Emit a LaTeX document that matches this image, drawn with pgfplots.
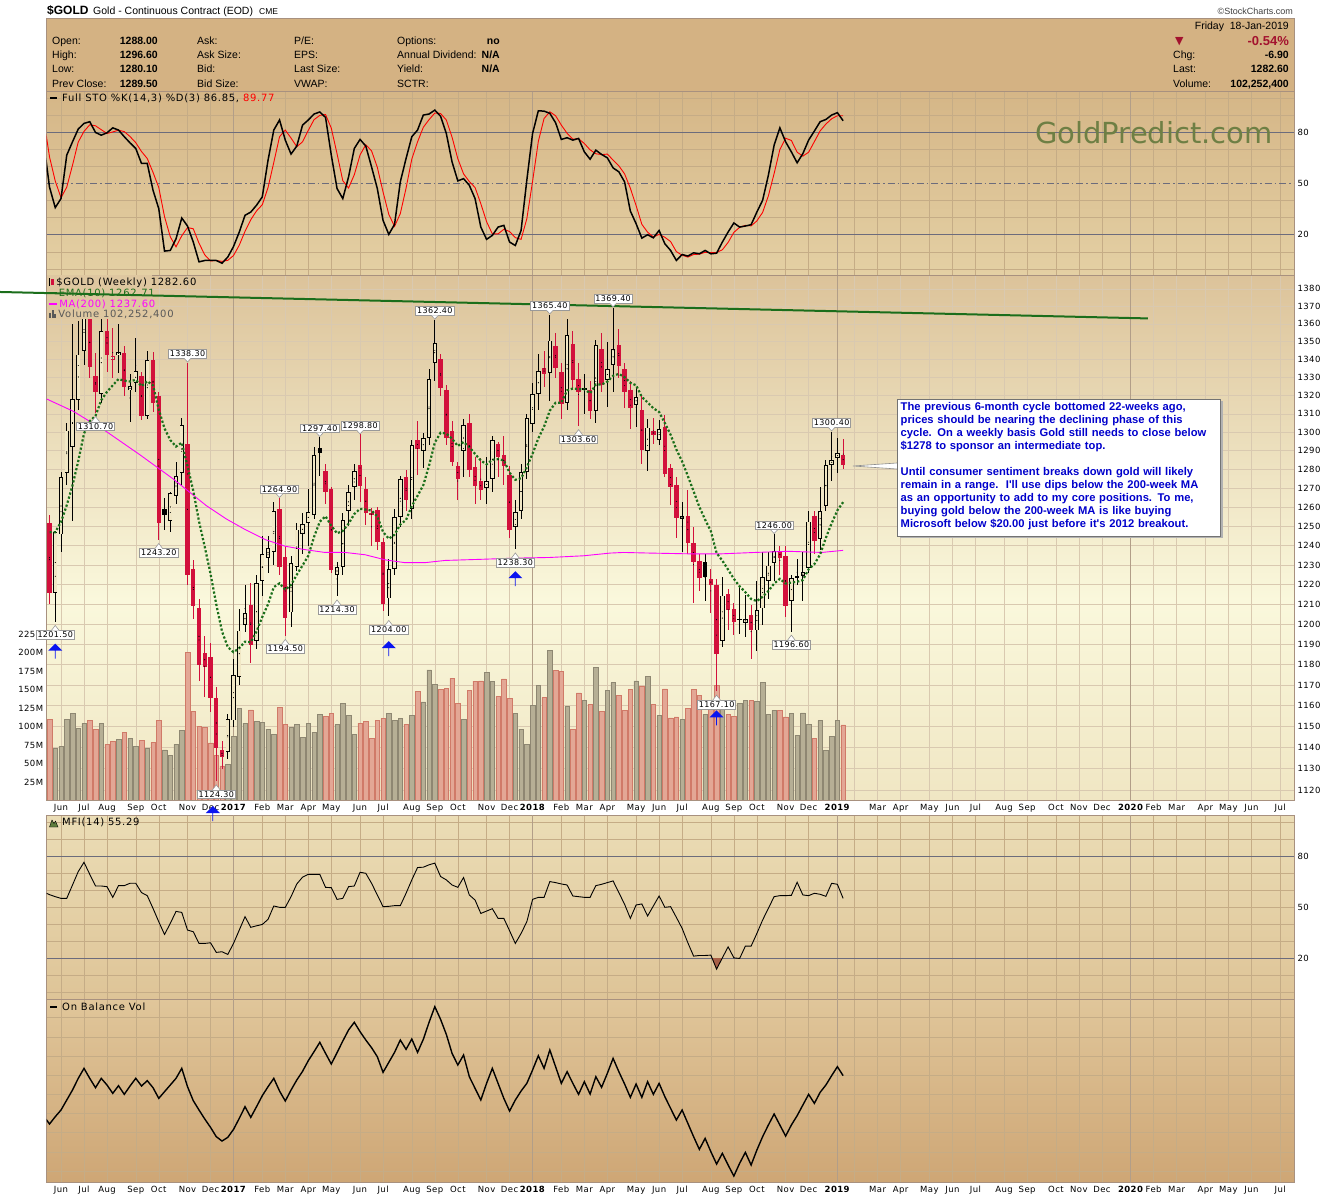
\documentclass[border=0pt]{standalone}
\usepackage{fontspec}
\setmainfont{DejaVu Sans}
\newfontfamily\lgd{DejaVu Sans}[LetterSpace=7]
\newfontfamily\tkf{DejaVu Sans}[LetterSpace=5]
\newfontfamily\hdr{Liberation Sans}
\newfontfamily\sym{DejaVu Sans}
\usepackage{pgfplots}
\usepackage{pgfplotstable}
\pgfplotsset{compat=1.18}
\usetikzlibrary{shapes.arrows}

\definecolor{hdrbg}{HTML}{D4B283}
\definecolor{bordercol}{HTML}{A8917F}
\definecolor{stotop}{HTML}{D5B687}
\definecolor{stobot}{HTML}{E4D0A4}
\definecolor{maintop}{HTML}{DCC39A}
\definecolor{mainmid}{HTML}{FAF8DC}
\definecolor{mainbot}{HTML}{F0E6C3}
\definecolor{mfitop}{HTML}{EBDDB6}
\definecolor{mfibot}{HTML}{DEC497}
\definecolor{obvtop}{HTML}{E0C69A}
\definecolor{obvbot}{HTML}{CEA675}
\definecolor{cred}{HTML}{D2103C}
\definecolor{hollowbg}{HTML}{F1E7C5}
\definecolor{volup}{HTML}{B6AF95}
\definecolor{volupline}{HTML}{8E8772}
\definecolor{voldn}{HTML}{E3A795}
\definecolor{voldnline}{HTML}{D07A68}
\definecolor{emagreen}{HTML}{1A6E1A}
\definecolor{trendgreen}{HTML}{1B6E1B}
\definecolor{magma}{HTML}{FF00FF}
\definecolor{refline}{HTML}{6C6C7C}
\definecolor{gridcol}{HTML}{C5AC86}
\definecolor{yeargrid}{HTML}{B29E88}
\definecolor{wmgreen}{HTML}{6E7F44}
\definecolor{txtblue}{HTML}{0000CC}
\definecolor{chgred}{HTML}{A3122E}
\definecolor{mfibrown}{HTML}{A86048}
\definecolor{maskcol}{HTML}{DEC7A0}
\definecolor{arrblue}{HTML}{0A14F0}
\definecolor{mfiicon}{HTML}{5E7D3E}

\pgfplotsset{
  panel/.style={scale only axis, width=1247.3pt, anchor=south west,
    xmin=-0.487, xmax=216.4,
    axis line style={draw=bordercol, line width=0.8pt},
    major tick length=0pt, minor tick length=0pt,
    xtick={2,6,10,15,19,24,28,32,37,41,45,49,54,58,63,67,71,76,80,84,89,93,97,102,106,110,115,119,123,128,132,137,140,144,148,153,157,161,166,170,175,179,183,188,192,196,201,205,209,214},
    xticklabels={}, xmajorgrids,
    major grid style={draw=gridcol, line width=0.5pt},
    minor grid style={draw=gridcol, line width=0.5pt},
    tick label style={font=\tkf\fontsize{8.5}{10}\selectfont}},
  years/.style={extra x ticks={32,84,137,188}, extra x tick labels={},
    extra x tick style={grid=major, major grid style={draw=yeargrid, line width=0.7pt}}},
  monthlabels/.style={xticklabels={Jun,Jul,Aug,Sep,Oct,Nov,Dec,\textbf{2017},Feb,Mar,Apr,May,Jun,Jul,Aug,Sep,Oct,Nov,Dec,\textbf{2018},Feb,Mar,Apr,May,Jun,Jul,Aug,Sep,Oct,Nov,Dec,\textbf{2019},{},Mar,Apr,May,Jun,Jul,Aug,Sep,Oct,Nov,Dec,\textbf{2020},Feb,Mar,Apr,May,Jun,Jul}},
  pricey/.style={ymin=7.016699, ymax=7.235401},
  candle/.style={only marks, mark=*, mark size=0.1pt, mark options={draw=none, fill=none}}
}
\tikzset{
  lbl/.style={draw=black!40, fill=white, inner sep=1.3pt, line width=0.6pt, font=\tkf\fontsize{8}{9}\selectfont},
  barrow/.style={single arrow, fill=arrblue, draw=none, minimum height=15pt, minimum width=14pt, single arrow head extend=3.5pt, single arrow head indent=0pt, shape border rotate=90, inner sep=0pt, anchor=tip}
}
% price labels with a small pointer (value given as ln of the price)
\newcommand\lowlbl[3]{\node[lbl, anchor=north, yshift=-9pt] (tmp) at (axis cs:#1,#2) {#3};
  \draw[draw=black!40, fill=white, line width=0.6pt] ([xshift=-4pt,yshift=-0.3pt]tmp.north) -- ([yshift=5pt]tmp.north) -- ([xshift=4pt,yshift=-0.3pt]tmp.north);}
\newcommand\highlbl[3]{\node[lbl, anchor=south, yshift=4pt] (tmp) at (axis cs:#1,#2) {#3};
  \draw[draw=black!40, fill=white, line width=0.6pt] ([xshift=-3.5pt,yshift=0.3pt]tmp.south) -- ([yshift=-3.5pt]tmp.south) -- ([xshift=3.5pt,yshift=0.3pt]tmp.south);}

% weekly candles: index, open, high, low, close, red(1)/black(0), filled(1)/hollow(0), volume (M)
\pgfplotstableread{
i o h l c r f v
0 1252 1256 1210 1216 1 1 109.6
1 1216 1248 1201.5 1247 0 0 71.0
2 1246 1279 1237 1276 0 0 73.4
3 1278 1305 1272 1301 0 0 109.6
4 1292 1360 1253 1318 0 0 117.9
5 1318 1362 1312 1343 0 0 98.0
6 1345 1377 1337 1366 0 0 104.5
7 1364 1370 1330 1336 1 1 108.6
8 1331 1344 1310.7 1322 1 1 96.6
9 1321 1366 1316 1356 0 0 104.5
10 1356 1372 1333 1343 1 1 76.1
11 1339.8 1358 1330 1341.7 1 0 80.3
12 1342.5 1360 1333 1344.6 0 0 83.1
13 1344 1348 1320 1324.8 1 1 91.9
14 1322.9 1332 1306 1325.3 0 0 84.0
15 1327 1352 1322 1333.5 0 0 73.4
16 1331 1333 1307 1309 1 1 81.7
17 1309 1345 1307 1340 0 0 70.1
18 1340 1344 1311 1316 1 1 78.5
19 1320 1322 1243.2 1252 1 1 108.6
20 1259 1265 1248 1256 0 1 68.7
21 1253 1268 1247 1267.6 0 0 60.8
22 1266 1284 1262 1276.5 0 0 76.1
23 1278 1308 1272 1304 0 0 94.7
24 1294 1338.3 1219.8 1225 1 1 200.1
25 1228 1233 1202.7 1209.5 1 1 121.2
26 1208.6 1213 1171.9 1180 1 1 100.3
27 1186 1194.3 1164.4 1179.3 1 1 98.9
28 1184 1191 1157 1164 1 1 78.0
29 1163.7 1169 1124.3 1140 1 1 60.8
30 1139 1143 1129.7 1135.8 1 1 46.9
31 1138 1156 1134.5 1153.5 0 0 49.2
32 1153 1183 1150 1175 0 0 86.4
33 1174 1207.8 1170 1197 0 0 124.4
34 1200 1219.8 1196 1206 0 0 104.9
35 1210 1220.7 1181 1190 1 1 122.8
36 1192 1225 1188 1221 0 0 107.2
37 1222 1245 1214 1236 0 0 106.3
38 1234 1245 1226 1239 0 0 96.6
39 1237 1263 1230 1258 0 0 89.6
40 1259 1264.9 1225 1229 1 1 125.8
41 1234 1240 1194.5 1203 1 1 103.5
42 1206 1235 1199 1231 0 0 98.9
43 1229 1252 1227 1248.5 0 0 103.5
44 1246 1257 1236 1251 0 0 85.4
45 1252 1270 1240 1257.5 0 0 104.9
46 1256 1292 1254 1288 0 0 92.4
47 1291.6 1297.4 1277 1288.8 0 1 116.5
48 1279.4 1283 1262 1268 1 1 114.2
49 1269.7 1271 1226 1227.5 1 1 117.9
50 1225 1232 1214.3 1229 0 0 102.6
51 1229 1257 1225 1253.5 0 0 131.8
52 1258 1272 1250 1268 0 0 115.1
53 1271 1283 1264 1279.5 0 0 89.6
54 1282.7 1298.8 1263 1271.3 1 1 104.9
55 1269.7 1276 1251 1257 1 1 107.2
56 1256.9 1260 1240 1255.8 1 1 84.0
57 1258.5 1260 1238 1242 1 1 108.6
58 1242 1244 1207 1210 1 1 111.0
59 1213 1233 1204 1228 0 0 117.9
60 1228 1259 1225 1255 0 0 108.6
61 1255 1277 1250 1275 0 0 111.0
62 1276 1280 1258 1264 1 1 103.5
63 1259 1296 1254 1293 0 0 115.1
64 1296 1306 1277 1291 1 1 148.1
65 1290 1300 1281 1297 0 0 133.7
66 1297 1335 1293 1329 0 0 176.9
67 1338.5 1362.4 1328 1349.5 0 0 156.9
68 1340 1343 1320 1324 1 1 150.4
69 1323 1326 1293 1297 1 1 151.8
70 1301 1306 1282 1284 1 1 165.3
71 1282 1284 1264 1275 1 1 131.4
72 1290 1307 1276 1304 0 0 109.6
73 1305 1310 1276 1280 1 1 149.0
74 1281.4 1287 1262 1271.5 1 1 161.6
75 1274 1286 1264 1269 1 1 162.0
76 1270.6 1287 1262 1274 0 0 173.2
77 1275 1298 1268 1296 0 0 161.6
78 1293.5 1295 1276 1287 1 1 140.7
79 1287.8 1298 1272 1282 1 1 164.8
80 1277.4 1282 1244 1248.4 1 1 137.9
81 1249.8 1264 1238.3 1257.8 0 0 117.9
82 1258 1283 1254 1278.7 0 0 96.6
83 1278.5 1310 1275 1308 0 0 76.1
84 1304.5 1327 1300 1321 0 0 128.6
85 1320.8 1343 1312 1333.6 0 0 155.5
86 1335.5 1345 1325 1331.9 1 1 139.3
87 1332.5 1365.4 1317 1350.8 0 0 202.9
88 1347.4 1355 1330 1335.5 1 1 176.0
89 1333.2 1338 1307 1315.6 1 1 174.6
90 1316 1363 1312 1354 0 0 127.2
91 1348.5 1356 1323 1328.5 1 1 96.6
92 1329.5 1338 1303.6 1322 1 1 145.8
93 1324 1332 1310 1323 0 1 135.6
94 1323 1328 1307 1311.4 1 1 130.0
95 1311.8 1351 1305 1348 0 0 180.1
96 1345.7 1355 1322 1326 1 1 120.7
97 1329 1350 1314 1334.7 0 0 149.0
98 1337.2 1369.4 1322 1346 0 0 159.7
99 1348.5 1357 1330 1336.6 1 1 142.1
100 1334.7 1338 1313 1322.2 1 1 121.6
101 1323 1328 1302 1313 1 1 150.0
102 1315.2 1325 1303 1319.4 0 0 162.0
103 1312.3 1320 1283 1290.4 1 1 155.1
104 1290 1307 1279 1302.6 0 0 167.6
105 1300.5 1308 1294 1298.8 1 1 130.0
106 1296 1307 1293 1302 0 0 115.1
107 1302.9 1309.4 1276 1277.7 1 1 151.3
108 1280.8 1283 1261 1270.6 1 1 111.9
109 1271.9 1276 1244 1254.4 1 1 113.3
110 1253.7 1263 1237 1255.6 0 0 109.6
111 1255.6 1269 1236 1241.4 1 1 124.4
112 1241.5 1250 1211 1231.8 1 1 150.0
113 1232 1236 1217 1223.6 1 1 142.1
114 1231.8 1236 1212 1223.8 0 1 116.5
115 1222.9 1228 1206 1219.8 1 1 130.5
116 1219.8 1223 1167.1 1185.4 1 1 156.0
117 1192 1224 1189 1214.6 0 0 132.8
118 1215.5 1218 1197 1207.3 1 1 116.5
119 1207.8 1211 1195 1201.5 1 1 114.2
120 1203 1219 1195 1202.3 0 1 131.4
121 1200.9 1215 1194 1202.8 0 0 135.1
122 1205 1210 1183 1197.2 1 1 135.1
123 1197 1222 1187 1207 0 0 134.2
124 1208 1237 1200 1224 0 0 159.7
125 1222 1237 1213 1229.8 0 0 116.5
126 1231.3 1246 1222 1237.4 0 0 122.1
127 1237 1240 1225 1234 1 1 122.1
128 1235 1240 1204 1209.5 1 1 113.3
129 1211.8 1225 1196.6 1223.5 0 0 117.5
130 1224.4 1233 1220 1223.6 0 1 88.7
131 1224.7 1237 1212 1226.5 0 0 118.8
132 1228.7 1258 1226 1252.5 0 0 103.5
133 1255.6 1258 1236 1242.3 1 1 84.0
134 1243.6 1271 1238 1258.1 0 0 108.2
135 1260.8 1285 1258 1282.6 0 0 67.8
136 1282.8 1300.4 1274 1285.3 0 0 87.3
137 1286.4 1297 1278 1289 0 0 108.6
138 1288 1296.6 1280.1 1282.6 1 1 102.25
}\candles

% EMA(10)
\pgfplotstableread{
i e
0 1247.0
1 1247.0
2 1252.3
3 1261.1
4 1271.5
5 1284.5
6 1299.3
7 1306.0
8 1308.9
9 1317.5
10 1322.1
11 1325.7
12 1329.1
13 1328.3
14 1327.8
15 1328.8
16 1325.2
17 1327.9
18 1325.7
19 1312.3
20 1302.1
21 1295.8
22 1292.3
23 1294.4
24 1281.8
25 1268.7
26 1252.6
27 1239.3
28 1225.6
29 1210.0
30 1196.5
31 1188.7
32 1186.2
33 1188.2
34 1191.4
35 1191.1
36 1196.5
37 1203.7
38 1210.1
39 1218.8
40 1220.7
41 1217.5
42 1219.9
43 1225.1
44 1229.8
45 1234.8
46 1244.5
47 1252.5
48 1255.3
49 1250.3
50 1246.4
51 1247.7
52 1251.4
53 1256.5
54 1259.2
55 1258.8
56 1258.3
57 1255.3
58 1247.1
59 1243.6
60 1245.7
61 1251.0
62 1253.4
63 1260.6
64 1266.1
65 1271.7
66 1282.1
67 1294.4
68 1299.8
69 1299.3
70 1296.5
71 1292.6
72 1294.7
73 1292.0
74 1288.3
75 1284.8
76 1282.8
77 1285.2
78 1285.5
79 1284.9
80 1278.3
81 1274.5
82 1275.3
83 1281.2
84 1288.5
85 1296.7
86 1303.1
87 1311.8
88 1316.1
89 1316.0
90 1322.9
91 1323.9
92 1323.6
93 1323.5
94 1321.3
95 1326.1
96 1326.1
97 1327.7
98 1331.0
99 1332.0
100 1330.2
101 1327.1
102 1325.7
103 1319.3
104 1316.3
105 1313.1
106 1311.1
107 1305.0
108 1298.7
109 1290.7
110 1284.3
111 1276.5
112 1268.4
113 1260.2
114 1253.6
115 1247.5
116 1236.2
117 1232.3
118 1227.7
119 1223.0
120 1219.2
121 1216.2
122 1212.8
123 1211.7
124 1213.9
125 1216.8
126 1220.6
127 1223.0
128 1220.6
129 1221.1
130 1221.5
131 1222.4
132 1227.9
133 1230.5
134 1235.5
135 1244.1
136 1251.6
137 1258.4
138 1262.7
}\ema

% MA(200)
\pgfplotstableread{
x m
-0.45 1318.1
4.1 1311.5
9.9 1300.4
15.7 1287.9
21.5 1275.0
27.3 1260.8
30.8 1253.8
34 1248.4
37.5 1243.2
41 1239.7
44.4 1238.0
47.9 1236.5
51.4 1236.5
54.9 1235.3
58.4 1232.7
61.8 1231.3
65.3 1231.3
68.8 1232.4
75.4 1233.0
81.2 1233.6
87 1233.9
92.9 1234.8
97.5 1236.2
99.8 1236.5
104.4 1236.2
111.1 1235.8
116.9 1235.8
122.7 1236.5
128.5 1237.1
134.3 1236.5
138 1237.6
}\ma

% Full STO %K and %D
\pgfplotstableread{
i k d
-1 74.1 87.8
0 48.0 65.7
1 35.9 51.5
2 41.2 41.7
3 66.7 47.9
4 74.5 60.8
5 82.0 74.4
6 85.3 80.6
7 86.3 84.5
8 80.0 83.9
9 78.4 81.6
10 79.8 79.4
11 82.7 80.3
12 81.4 81.3
13 77.5 80.5
14 73.9 77.6
15 70.6 74.0
16 61.8 68.8
17 61.8 64.7
18 46.1 56.6
19 35.3 47.7
20 10.4 30.6
21 10.8 18.8
22 17.6 12.9
23 29.8 19.4
24 25.1 24.2
25 15.7 23.5
26 4.1 15.0
27 4.9 8.2
28 4.9 4.6
29 4.9 4.9
30 3.3 4.4
31 6.9 5.0
32 13.1 7.8
33 21.6 13.9
34 31.4 22.0
35 33.3 28.8
36 37.3 34.0
37 42.2 37.6
38 63.7 47.7
39 81.4 62.4
40 87.3 77.5
41 75.5 81.4
42 67.3 76.7
43 72.0 71.6
44 84.3 74.5
45 87.3 81.2
46 90.8 87.5
47 92.0 90.0
48 88.8 90.5
49 66.7 82.5
50 47.1 67.5
51 41.2 51.7
52 53.9 47.4
53 70.6 55.2
54 75.9 66.8
55 72.0 72.8
56 59.8 69.2
57 47.1 59.6
58 28.4 45.1
59 20.2 31.9
60 26.1 24.9
61 51.0 32.4
62 64.7 47.3
63 77.5 64.4
64 81.4 74.5
65 90.2 83.0
66 90.8 87.5
67 93.1 91.4
68 89.5 91.1
69 79.4 87.3
70 62.7 77.2
71 51.6 64.6
72 52.9 55.7
73 49.0 51.2
74 41.2 47.7
75 24.5 38.2
76 17.3 27.7
77 19.6 20.5
78 24.5 20.5
79 25.5 23.2
80 15.7 21.9
81 13.7 18.3
82 22.5 17.3
83 52.0 29.4
84 79.4 51.3
85 92.7 74.7
86 92.5 88.2
87 91.2 92.1
88 85.7 89.8
89 75.9 84.3
90 76.9 79.5
91 75.5 76.1
92 76.5 76.3
93 68.6 73.5
94 64.3 69.8
95 69.6 67.5
96 67.1 67.0
97 65.1 67.3
98 59.2 63.8
99 56.9 60.4
100 51.0 55.7
101 33.9 47.3
102 26.5 37.1
103 18.0 26.1
104 20.0 21.5
105 18.2 18.7
106 22.5 20.2
107 14.7 18.5
108 10.8 16.0
109 4.9 10.1
110 8.4 8.0
111 7.5 6.9
112 9.4 8.4
113 8.8 8.6
114 10.8 9.7
115 8.8 9.5
116 9.2 9.6
117 15.7 11.2
118 21.6 15.5
119 26.9 21.4
120 24.5 24.3
121 25.1 25.5
122 25.9 25.2
123 33.3 28.1
124 40.2 33.1
125 54.9 42.8
126 72.5 55.9
127 82.7 70.0
128 74.5 76.6
129 68.6 75.3
130 62.2 68.4
131 67.6 66.1
132 75.5 68.4
133 80.8 74.6
134 86.3 80.9
135 87.6 84.9
136 90.2 88.0
137 91.6 89.8
138 86.85 89.77
}\sto

% MFI(14) and On Balance Volume (panel units)
\pgfplotstableread{
i mfi obv
-1 59.0 200
0 57.5 176
1 56.3 198
2 55.3 218
3 55.3 248
4 63.2 278
5 71.1 313
6 76.6 343
7 69.5 313
8 62.6 285
9 62.6 313
10 62.2 293
11 55.9 268
12 62.8 291
13 62.8 265
14 64.2 290
15 64.2 313
16 58.7 290
17 56.9 306
18 49.4 285
19 41.5 253
20 34.0 273
21 40.5 293
22 47.6 313
23 47.0 343
24 36.6 288
25 35.6 246
26 28.7 218
27 28.7 191
28 29.1 166
29 23.4 138
30 23.8 125
31 22.2 136
32 28.7 160
33 36.6 193
34 44.5 228
35 38.2 196
36 39.1 228
37 39.9 261
38 42.9 288
39 50.8 313
40 50.0 275
41 50.0 245
42 56.3 278
43 63.8 308
44 67.8 334
45 69.5 366
46 69.5 393
47 69.5 421
48 61.8 388
49 61.6 356
50 54.7 390
51 55.3 425
52 62.2 458
53 62.6 481
54 70.7 453
55 70.1 428
56 64.2 405
57 57.3 378
58 50.4 331
59 50.6 361
60 51.0 391
61 51.0 428
62 58.3 400
63 66.2 431
64 73.5 391
65 73.7 430
66 75.1 481
67 76.1 528
68 68.2 490
69 66.2 445
70 63.2 388
71 61.8 353
72 67.6 383
73 57.3 318
74 54.3 283
75 46.4 248
76 47.8 298
77 49.2 343
78 43.5 298
79 43.5 253
80 36.2 215
81 28.7 248
82 34.6 275
83 41.5 298
84 54.7 338
85 55.9 381
86 55.9 343
87 65.2 398
88 64.6 348
89 63.8 298
90 63.2 333
91 56.7 298
92 56.3 265
93 55.9 303
94 55.9 266
95 62.8 318
96 63.6 286
97 64.6 328
98 65.6 373
99 58.7 333
100 51.8 296
101 43.5 256
102 51.4 296
103 52.0 256
104 44.9 303
105 50.8 265
106 56.7 298
107 50.0 258
108 50.4 223
109 44.1 188
110 37.6 218
111 29.1 178
112 21.2 138
113 21.6 100
114 21.6 133
115 21.8 93
116 13.5 56
117 20.2 88
118 26.7 53
119 20.2 20
120 19.8 58
121 27.1 91
122 27.1 53
123 34.6 98
124 42.5 138
125 49.4 173
126 56.3 206
127 56.9 173
128 56.9 140
129 57.1 173
130 64.8 201
131 57.3 233
132 56.9 265
133 58.3 238
134 57.7 271
135 56.5 293
136 64.2 321
137 63.6 348
138 55.3 321
}\mo

\begin{document}
\begin{tikzpicture}
\useasboundingbox (0pt,0pt) rectangle (1340pt,1200pt);
\fill[white] (0pt,0pt) rectangle (1340pt,1200pt);
% header box
\fill[hdrbg] (46.7pt,1108.3pt) rectangle (1294pt,1181.5pt);
\draw[bordercol, line width=0.8pt] (46.7pt,1108.3pt) rectangle (1294pt,1181.5pt);
% panel backgrounds
\shade[top color=stotop, bottom color=stobot] (46.7pt,924.5pt) rectangle (1294pt,1108.3pt);
\shade[top color=maintop, bottom color=mainmid] (46.7pt,600pt) rectangle (1294pt,924.5pt);
\shade[top color=mainmid, bottom color=mainbot] (46.7pt,399.5pt) rectangle (1294pt,600pt);
\shade[top color=mfitop, bottom color=mfibot] (46.7pt,201pt) rectangle (1294pt,385pt);
\shade[top color=obvtop, bottom color=obvbot] (46.7pt,17.3pt) rectangle (1294pt,201pt);

% title line
\node[anchor=base west, inner sep=0pt, font=\hdr\bfseries\fontsize{12}{14}\selectfont] at (47pt,1185pt) {\$GOLD};
\node[anchor=base west, inner sep=0pt, font=\hdr\fontsize{10.5}{12}\selectfont] at (93pt,1185pt) {Gold - Continuous Contract (EOD)};
\node[anchor=base west, inner sep=0pt, font=\hdr\fontsize{8.5}{10}\selectfont] at (259pt,1185pt) {CME};
\node[anchor=base east, inner sep=0pt, font=\hdr\fontsize{9}{10}\selectfont, text=black!75] at (1293pt,1185pt) {©StockCharts.com};
% header rows
\begin{scope}[every node/.style={inner sep=0pt, font=\hdr\fontsize{10.5}{12}\selectfont}]
\node[anchor=base west] at (52pt,1155pt) {Open:};
\node[anchor=base west] at (52pt,1141pt) {High:};
\node[anchor=base west] at (52pt,1127pt) {Low:};
\node[anchor=base west] at (52pt,1112pt) {Prev Close:};
\node[anchor=base east, font=\hdr\bfseries\fontsize{10.5}{12}\selectfont] at (158pt,1155pt) {1288.00};
\node[anchor=base east, font=\hdr\bfseries\fontsize{10.5}{12}\selectfont] at (158pt,1141pt) {1296.60};
\node[anchor=base east, font=\hdr\bfseries\fontsize{10.5}{12}\selectfont] at (158pt,1127pt) {1280.10};
\node[anchor=base east, font=\hdr\bfseries\fontsize{10.5}{12}\selectfont] at (158pt,1112pt) {1289.50};
\node[anchor=base west] at (197pt,1155pt) {Ask:};
\node[anchor=base west] at (197pt,1141pt) {Ask Size:};
\node[anchor=base west] at (197pt,1127pt) {Bid:};
\node[anchor=base west] at (197pt,1112pt) {Bid Size:};
\node[anchor=base west] at (294pt,1155pt) {P/E:};
\node[anchor=base west] at (294pt,1141pt) {EPS:};
\node[anchor=base west] at (294pt,1127pt) {Last Size:};
\node[anchor=base west] at (294pt,1112pt) {VWAP:};
\node[anchor=base west] at (397pt,1155pt) {Options:};
\node[anchor=base west] at (397pt,1141pt) {Annual Dividend:};
\node[anchor=base west] at (397pt,1127pt) {Yield:};
\node[anchor=base west] at (397pt,1112pt) {SCTR:};
\node[anchor=base east, font=\hdr\bfseries\fontsize{10.5}{12}\selectfont] at (500pt,1155pt) {no};
\node[anchor=base east, font=\hdr\bfseries\fontsize{10.5}{12}\selectfont] at (500pt,1141pt) {N/A};
\node[anchor=base east, font=\hdr\bfseries\fontsize{10.5}{12}\selectfont] at (500pt,1127pt) {N/A};
\node[anchor=base east] at (1289pt,1170pt) {Friday\ \ 18-Jan-2019};
\node[anchor=base west, font=\sym\fontsize{11}{12}\selectfont, text=chgred] at (1175pt,1155pt) {▼};
\node[anchor=base east, font=\hdr\bfseries\fontsize{13}{14}\selectfont, text=chgred] at (1289pt,1154pt) {-0.54\%};
\node[anchor=base west] at (1173pt,1141pt) {Chg:};
\node[anchor=base west] at (1173pt,1127pt) {Last:};
\node[anchor=base west] at (1173pt,1112pt) {Volume:};
\node[anchor=base east, font=\hdr\bfseries\fontsize{10.5}{12}\selectfont] at (1289pt,1141pt) {-6.90};
\node[anchor=base east, font=\hdr\bfseries\fontsize{10.5}{12}\selectfont] at (1289pt,1127pt) {1282.60};
\node[anchor=base east, font=\hdr\bfseries\fontsize{10.5}{12}\selectfont] at (1289pt,1112pt) {102,252,400};
\end{scope}

% ---------- STO panel ----------
\begin{axis}[panel, years, at={(46.7pt,924.5pt)}, height=183.8pt, ymin=-3.9, ymax=103.9,
  ytick={20,50,80}, yticklabels={20,50,80}, yticklabel pos=right,
  minor ytick={0,10,30,40,60,70,90,100}, yminorgrids]
\draw[refline, line width=1.2pt] (axis cs:-0.487,80) -- (axis cs:216.4,80);
\draw[refline, line width=1.2pt] (axis cs:-0.487,20) -- (axis cs:216.4,20);
\draw[refline, line width=1pt, dash pattern=on 7pt off 3pt on 1.5pt off 3pt] (axis cs:-0.487,50) -- (axis cs:216.4,50);
\addplot[red, line width=0.9pt] table[x=i, y=d] {\sto};
\addplot[black, line width=1.5pt] table[x=i, y=k] {\sto};
\end{axis}

% ---------- MFI panel ----------
\begin{axis}[panel, years, at={(46.7pt,201pt)}, height=184pt, ymin=-4.1, ymax=104.5,
  ytick={20,50,80}, yticklabels={20,50,80}, yticklabel pos=right,
  minor ytick={0,10,30,40,50,60,70,90,100}, yminorgrids]
\draw[refline, line width=1.2pt] (axis cs:-0.487,80) -- (axis cs:216.4,80);
\draw[refline, line width=1.2pt] (axis cs:-0.487,20) -- (axis cs:216.4,20);
\addplot[fill=mfibrown, draw=none] coordinates {(115.22,20) (116,13.5) (116.97,20)} -- cycle;
\addplot[black, line width=0.9pt] table[x=i, y=mfi] {\mo};
\end{axis}

% ---------- OBV panel ----------
\begin{axis}[panel, years, monthlabels, at={(46.7pt,17.3pt)}, height=183.7pt, ymin=0, ymax=551,
  ytick={35,92.5,...,495}, yticklabels={}, ymajorgrids]
\addplot[black, line width=1.4pt] table[x=i, y=obv] {\mo};
\end{axis}

% ---------- main price panel (log price scale as ln): grid and tick labels ----------
\begin{axis}[panel, years, monthlabels, pricey, at={(46.7pt,399.5pt)}, height=525pt,
  ytick={7.021084,7.029973,7.038784,7.047517,7.056175,7.064759,7.073270,7.081709,7.090077,7.098376,7.106606,7.114769,7.122867,7.130899,7.138867,7.146772,7.154615,7.162397,7.170120,7.177782,7.185387,7.192934,7.200425,7.207860,7.215240,7.222566,7.229839},
  yticklabels={1120,1130,1140,1150,1160,1170,1180,1190,1200,1210,1220,1230,1240,1250,1260,1270,1280,1290,1300,1310,1320,1330,1340,1350,1360,1370,1380},
  yticklabel pos=right, ymajorgrids, axis line style={draw=none},
  major grid style={draw=gridcol!65!white, line width=0.5pt}]
\addplot[draw=none] coordinates {(0,7.1) (1,7.11)};
\end{axis}

% ---------- volume ----------
\begin{axis}[panel, at={(46.7pt,399.5pt)}, height=525pt, ymin=0, ymax=711,
  xtick=\empty, xmajorgrids=false,
  ytick={25,50,75,100,125,150,175,200,225}, yticklabels={25M,50M,75M,100M,125M,150M,175M,200M,225M},
  axis line style={draw=none}]
\addplot[ybar, bar width=4.5pt, bar shift=0pt, fill=volup, draw=volupline, line width=0.5pt]
  table[x=i, y expr={(1-\thisrow{r})*\thisrow{v}-\thisrow{r}*100}] {\candles};
\addplot[ybar, bar width=4.5pt, bar shift=0pt, fill=voldn, draw=voldnline, line width=0.5pt]
  table[x=i, y expr={\thisrow{r}*\thisrow{v}-(1-\thisrow{r})*100}] {\candles};
\end{axis}

% ---------- candles, averages, annotations ----------
\begin{axis}[panel, pricey, at={(46.7pt,399.5pt)}, height=525pt, clip=false,
  xtick=\empty, ytick=\empty, xmajorgrids=false]
% wicks
\addplot[candle, error bars/.cd, y dir=both, y explicit, error mark=none, error bar style={draw=cred, line width=0.9pt}]
  table[x=i, y expr={(ln(\thisrow{h})+ln(\thisrow{l}))/2}, y error expr={\thisrow{r}*(ln(\thisrow{h})-ln(\thisrow{l}))/2}] {\candles};
\addplot[candle, error bars/.cd, y dir=both, y explicit, error mark=none, error bar style={draw=black, line width=0.9pt}]
  table[x=i, y expr={(ln(\thisrow{h})+ln(\thisrow{l}))/2}, y error expr={(1-\thisrow{r})*(ln(\thisrow{h})-ln(\thisrow{l}))/2}] {\candles};
% bodies: red
\addplot[candle, error bars/.cd, y dir=both, y explicit, error mark=none, error bar style={draw=cred, line width=4.4pt}]
  table[x=i, y expr={(ln(\thisrow{o})+ln(\thisrow{c}))/2}, y error expr={\thisrow{r}*abs(ln(\thisrow{o})-ln(\thisrow{c}))/2}] {\candles};
% bodies: black
\addplot[candle, error bars/.cd, y dir=both, y explicit, error mark=none, error bar style={draw=black, line width=4.4pt}]
  table[x=i, y expr={(ln(\thisrow{o})+ln(\thisrow{c}))/2}, y error expr={(1-\thisrow{r})*abs(ln(\thisrow{o})-ln(\thisrow{c}))/2}] {\candles};
% hollow interiors (inset by the outline width)
\addplot[candle, error bars/.cd, y dir=both, y explicit, error mark=none, error bar style={draw=hollowbg, line width=2.6pt}]
  table[x=i, y expr={(ln(\thisrow{o})+ln(\thisrow{c}))/2}, y error expr={(1-\thisrow{f})*(abs(ln(\thisrow{o})-ln(\thisrow{c}))/2-0.000375)}] {\candles};
% moving averages
\addplot[magma, line width=0.9pt] table[x=x, y expr={ln(\thisrow{m})}] {\ma};
\addplot[emagreen, line width=2.2pt, dash pattern=on 2.2pt off 2pt] table[x=i, y expr={ln(\thisrow{e})}] {\ema};
% legend block
\fill[maskcol] (rel axis cs:0,0.9162) rectangle (rel axis cs:0.0844,1);
\node[anchor=west, inner sep=0pt, font=\lgd\fontsize{10}{12}\selectfont] at (rel axis cs:0.0019,0.9867) {\textcolor{black}{\rule[-1pt]{1pt}{8pt}}\hspace{1pt}\textcolor{cred}{\rule{2.5pt}{6pt}}\hspace{2.5pt}\$GOLD (Weekly) 1282.60};
\node[anchor=west, inner sep=0pt, font=\lgd\fontsize{10}{12}\selectfont, text=emagreen] at (rel axis cs:0.0019,0.9661) {\rule[2.5pt]{3pt}{1.6pt}\hspace{1.5pt}\rule[2.5pt]{3pt}{1.6pt}\hspace{2pt}EMA(10) 1262.71};
\node[anchor=west, inner sep=0pt, font=\lgd\fontsize{10}{12}\selectfont, text=magma] at (rel axis cs:0.0019,0.9457) {\rule[2.5pt]{8pt}{1.4pt}\hspace{2pt}MA(200) 1237.60};
\node[anchor=west, inner sep=0pt, font=\lgd\fontsize{10}{12}\selectfont, text=black!65] at (rel axis cs:0.0019,0.9257) {\rule{2pt}{5pt}\hspace{0.6pt}\rule{2pt}{7.5pt}\hspace{0.6pt}\rule{2pt}{4pt}\hspace{2pt}Volume 102,252,400};
% trend line (1378.2 -> 1363.1)
\addplot[trendgreen, line width=2pt] coordinates {(-8.61,7.228533) (191,7.217517)};
% low labels
\lowlbl{1}{7.091326}{1201.50}
\lowlbl{8}{7.178316}{1310.70}
\lowlbl{19}{7.125444}{1243.20}
\lowlbl{29}{7.024916}{1124.30}
\lowlbl{41}{7.085483}{1194.50}
\lowlbl{50}{7.101923}{1214.30}
\lowlbl{59}{7.093405}{1204.00}
\lowlbl{81}{7.121494}{1238.30}
\lowlbl{92}{7.172884}{1303.60}
\lowlbl{116}{7.062277}{1167.10}
\lowlbl{129}{7.087239}{1196.60}
% high labels
\highlbl{24}{7.199156}{1338.30}
\highlbl{40}{7.142748}{1264.90}
\highlbl{47}{7.168117}{1297.40}
\highlbl{54}{7.169196}{1298.80}
\highlbl{67}{7.217003}{1362.40}
\highlbl{87}{7.219203}{1365.40}
\highlbl{98}{7.222128}{1369.40}
\highlbl{126}{7.127693}{1246.00}
\highlbl{136}{7.170427}{1300.40}
% blue arrows
\node[barrow, yshift=-22pt] at (axis cs:1,7.091326) {};
\node[barrow, yshift=-25pt] at (axis cs:28.4,7.024916) {};
\node[barrow, yshift=-24.5pt] at (axis cs:59,7.093405) {};
\node[barrow, yshift=-22pt] at (axis cs:81,7.121494) {};
\node[barrow, yshift=-19pt] at (axis cs:116,7.062277) {};
\end{axis}

% ---------- panel legends ----------
\fill[black] (50pt,1100.5pt) rectangle (57pt,1102.8pt);
\node[anchor=base west, inner sep=0pt, font=\lgd\fontsize{10}{12}\selectfont] at (62pt,1098.4pt) {Full STO \%K(14,3) \%D(3) 86.85, \textcolor{red}{89.77}};
\node[font=\sym\fontsize{29}{30}\selectfont, text=wmgreen] at (1154pt,1067pt) {GoldPredict.com};
\fill[mfiicon, draw=black, line width=0.4pt] (49.5pt,373pt) -- (52pt,380pt) -- (54pt,376.5pt) -- (55.5pt,379pt) -- (58pt,373pt) -- cycle;
\node[anchor=base west, inner sep=0pt, font=\lgd\fontsize{10}{12}\selectfont] at (62pt,374.4pt) {MFI(14) 55.29};
\fill[black] (50pt,191.8pt) rectangle (57pt,194.2pt);
\node[anchor=base west, inner sep=0pt, font=\lgd\fontsize{10}{12}\selectfont] at (62pt,189.7pt) {On Balance Vol};

% ---------- comment box ----------
\draw[draw=black!45, fill=white, line width=0.6pt] (897pt,737pt) -- (853pt,734pt) -- (897pt,731pt);
\fill[black!30] (899.5pt,661.5pt) rectangle (1222.5pt,799pt);
\draw[draw=black!55, fill=white, line width=0.6pt] (897pt,664pt) rectangle (1220pt,801pt);
\node[anchor=north west, inner sep=0pt, text width=330pt, align=left, font=\hdr\bfseries\fontsize{11.2}{13}\selectfont, text=txtblue] at (900.5pt,797.5pt) {The previous 6-month cycle bottomed 22-weeks ago,\\ prices should be nearing the declining phase of this\\ cycle. On a weekly basis Gold still needs to close below\\ \$1278 to sponsor an intermediate top.\\[13pt] Until consumer sentiment breaks down gold will likely\\ remain in a range.\ \ I'll use dips below the 200-week MA\\ as an opportunity to add to my core positions. To me,\\ buying gold below the 200-week MA is like buying\\ Microsoft below \$20.00 just before it's 2012 breakout.};
\end{tikzpicture}
\end{document}
